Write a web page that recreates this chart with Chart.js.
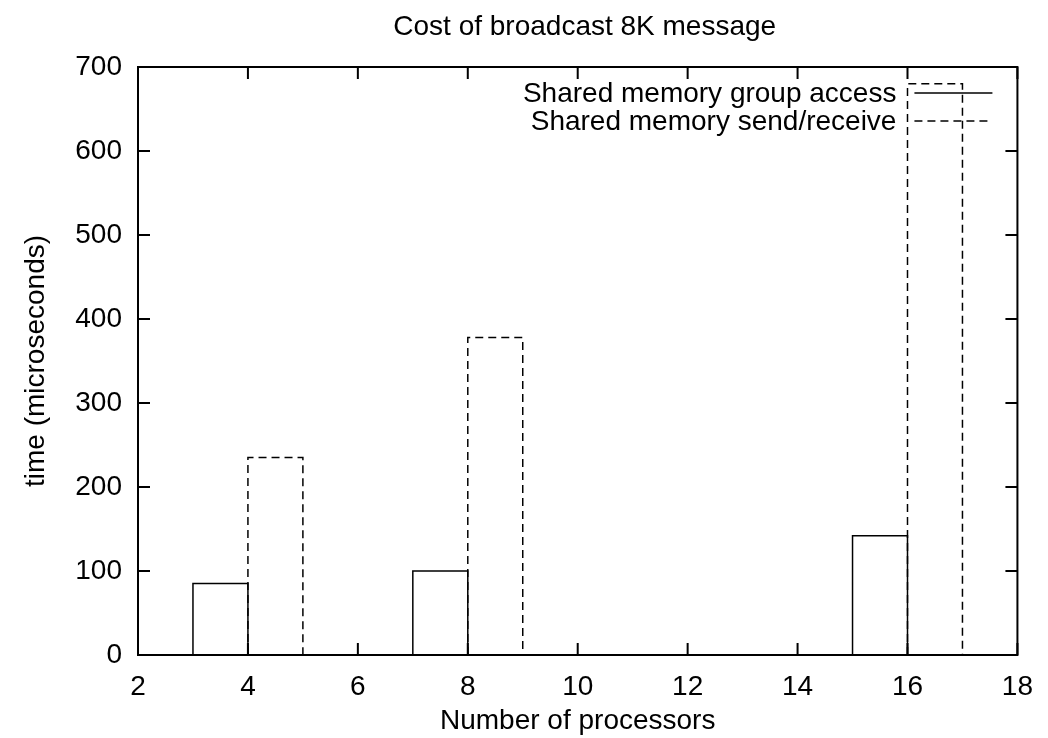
<!DOCTYPE html>
<html>
<head>
<meta charset="utf-8">
<script src="https://cdn.jsdelivr.net/npm/chart.js@4"></script>
<style>
  html, body { margin: 0; padding: 0; background: #fff; }
  #wrap { width: 1048px; height: 738px; position: relative; }
</style>
</head>
<body>
<div id="wrap"><canvas id="c"></canvas></div>
<script>
// Broadcast cost of an 8K message, by processor count
const processors = [4, 8, 16];
const groupAccess = [85, 100, 142];   // shared memory group access (µs)
const sendReceive = [235, 378, 680];  // shared memory send/receive (µs)
const xTickValues = [2, 4, 6, 8, 10, 12, 14, 16, 18];
const yTickValues = [0, 100, 200, 300, 400, 500, 600, 700];
const seriesNames = ['Shared memory group access', 'Shared memory send/receive'];
const chartTitle = 'Cost of broadcast 8K message';

const FONT = "'Liberation Sans', Arial, Helvetica, sans-serif";
const SIZE = 28;
const DASH = [8, 5];

// Outline of unit-wide boxes; group boxes sit left of the processor count,
// send/receive boxes sit to its right.
function boxes(offset, values) {
  const pts = [];
  processors.forEach((p, i) => {
    const l = p + offset, r = l + 1, v = values[i];
    pts.push({x: l, y: 0}, {x: l, y: v}, {x: r, y: v}, {x: r, y: 0}, {x: r, y: null});
  });
  return pts;
}

// Frame with inward ticks on all four sides
const framePlugin = {
  id: 'frame',
  afterDatasetsDraw(chart) {
    const {ctx, chartArea: a, scales: {x, y}} = chart;
    ctx.save();
    ctx.strokeStyle = '#000';
    ctx.lineWidth = 2;
    ctx.setLineDash([]);
    ctx.strokeRect(a.left, a.top, a.right - a.left, a.bottom - a.top);
    const len = 12;
    ctx.beginPath();
    xTickValues.forEach(v => {
      const px = x.getPixelForValue(v);
      ctx.moveTo(px, a.bottom); ctx.lineTo(px, a.bottom - len);
      ctx.moveTo(px, a.top); ctx.lineTo(px, a.top + len);
    });
    yTickValues.forEach(v => {
      const py = y.getPixelForValue(v);
      ctx.moveTo(a.left, py); ctx.lineTo(a.left + len, py);
      ctx.moveTo(a.right, py); ctx.lineTo(a.right - len, py);
    });
    ctx.stroke();
    ctx.restore();
  }
};

// Title above the plot frame
const headingPlugin = {
  id: 'heading',
  afterDraw(chart) {
    const {ctx, chartArea: a} = chart;
    ctx.save();
    ctx.font = SIZE + 'px ' + FONT;
    ctx.fillStyle = '#000';
    ctx.textAlign = 'center';
    ctx.textBaseline = 'alphabetic';
    ctx.fillText(chartTitle, (a.left + a.right) / 2 + 7, a.top - 32);
    ctx.restore();
  }
};

// Key in the top-right corner: label text, then a line sample
const keyPlugin = {
  id: 'key',
  afterDatasetsDraw(chart) {
    const {ctx, chartArea: a} = chart;
    ctx.save();
    ctx.font = SIZE + 'px ' + FONT;
    ctx.fillStyle = '#000';
    ctx.textAlign = 'right';
    ctx.textBaseline = 'middle';
    chart.data.datasets.forEach((ds, i) => {
      const yy = a.top + 26 + i * 28;
      ctx.fillText(ds.label, a.right - 121, yy + 1);
      ctx.beginPath();
      ctx.lineWidth = 1.5;
      ctx.strokeStyle = '#000';
      ctx.setLineDash(ds.borderDash || []);
      ctx.moveTo(a.right - 103, yy);
      ctx.lineTo(a.right - 25, yy);
      ctx.stroke();
    });
    ctx.restore();
  }
};

new Chart(document.getElementById('c'), {
  type: 'scatter',
  data: {
    datasets: [
      {
        label: seriesNames[0],
        data: boxes(-1, groupAccess),
        showLine: true,
        spanGaps: false,
        borderColor: '#000',
        borderWidth: 1.5,
        pointRadius: 0,
        pointHoverRadius: 0,
        fill: false
      },
      {
        label: seriesNames[1],
        data: boxes(0, sendReceive),
        showLine: true,
        spanGaps: false,
        borderColor: '#000',
        borderWidth: 1.5,
        borderDash: DASH,
        pointRadius: 0,
        pointHoverRadius: 0,
        fill: false
      }
    ]
  },
  options: {
    responsive: true,
    maintainAspectRatio: false,
    animation: false,
    layout: { padding: { left: 0, right: 30, top: 67, bottom: 0 } },
    plugins: {
      legend: { display: false },
      tooltip: { enabled: false },
      title: { display: false }
    },
    scales: {
      x: {
        type: 'linear',
        min: 2,
        max: 18,
        afterBuildTicks(scale) { scale.ticks = xTickValues.map(v => ({value: v})); },
        afterFit(scale) { scale.height = 83; },
        grid: { display: false, drawTicks: false },
        border: { display: false },
        ticks: {
          color: '#000',
          padding: 15,
          maxRotation: 0,
          autoSkip: false,
          font: { family: FONT, size: SIZE }
        },
        title: {
          display: true,
          text: 'Number of processors',
          color: '#000',
          font: { family: FONT, size: SIZE },
          padding: { top: 0, bottom: 0 }
        }
      },
      y: {
        type: 'linear',
        min: 0,
        max: 700,
        afterBuildTicks(scale) { scale.ticks = yTickValues.map(v => ({value: v})); },
        afterFit(scale) { scale.width = 138; },
        grid: { display: false, drawTicks: false },
        border: { display: false },
        ticks: {
          color: '#000',
          padding: 16,
          autoSkip: false,
          font: { family: FONT, size: SIZE }
        },
        title: {
          display: true,
          text: 'time (microseconds)',
          color: '#000',
          font: { family: FONT, size: SIZE },
          padding: { top: 19, bottom: 0 }
        }
      }
    }
  },
  plugins: [framePlugin, headingPlugin, keyPlugin]
});
</script>
</body>
</html>
